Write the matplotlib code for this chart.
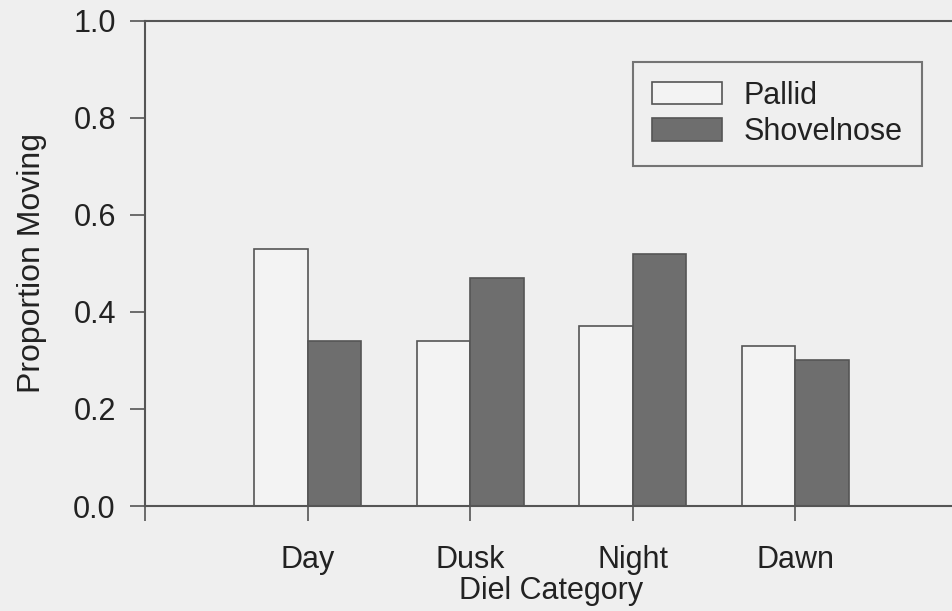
import numpy as np
import matplotlib
matplotlib.use('Agg')
import matplotlib.pyplot as plt

categories = ['Day', 'Dusk', 'Night', 'Dawn']
pallid = [0.53, 0.34, 0.37, 0.33]
shovelnose = [0.34, 0.47, 0.52, 0.30]

plt.rcParams['font.family'] = ['Liberation Sans', 'DejaVu Sans']
plt.rcParams['font.size'] = 22

bg = '#efefef'
edge = '#555555'

fig = plt.figure(figsize=(9.52, 6.11), dpi=100, facecolor=bg)
ax = fig.add_axes([145 / 952, 105 / 611, 813 / 952, 485.3 / 611])
ax.set_facecolor(bg)

x = np.arange(1, len(categories) + 1)
w = 0.33
ax.bar(x - w / 2, pallid, w, color='#f3f3f3', edgecolor=edge, linewidth=1.2,
       label='Pallid')
ax.bar(x + w / 2, shovelnose, w, color='#6e6e6e', edgecolor=edge, linewidth=1.2,
       label='Shovelnose')

ax.set_xlim(0, 5)
ax.set_ylim(0, 1.0)
ax.set_xticks(np.arange(0, 5), [''] + categories)
ax.set_yticks(np.arange(0, 1.01, 0.2))
ax.yaxis.set_major_formatter(matplotlib.ticker.FormatStrFormatter('%.1f'))
ax.tick_params(direction='out', length=11, width=1.2, color=edge,
               labelcolor='#222222')
ax.tick_params(axis='y', pad=10)
ax.tick_params(axis='x', pad=17)

for s in ['left', 'bottom', 'top']:
    ax.spines[s].set_color(edge)
    ax.spines[s].set_linewidth(1.5)
ax.spines['right'].set_visible(False)

ax.set_xlabel('Diel Category', color='#222222', labelpad=1)
ax.set_ylabel('Proportion Moving', color='#222222', fontsize=23, labelpad=19)

leg = fig.legend(loc='upper left', bbox_to_anchor=(633 / 952, 1 - 62 / 611),
                 borderaxespad=0, frameon=True, fancybox=False,
                 handlelength=2.3, handleheight=0.75, handletextpad=0.7,
                 labelspacing=0.2, borderpad=0.62, fontsize=22)
leg.get_frame().set_edgecolor(edge)
leg.get_frame().set_facecolor(bg)
leg.get_frame().set_linewidth(1.5)
for t in leg.get_texts():
    t.set_color('#222222')

fig.savefig('out.png', dpi=100, facecolor=bg)
